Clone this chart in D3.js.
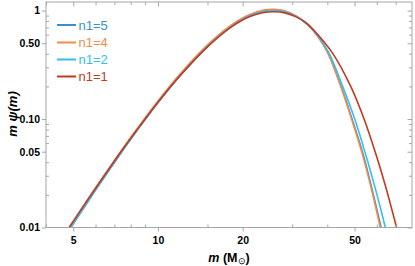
<!DOCTYPE html>
<html><head><meta charset="utf-8">
<script src="https://cdn.jsdelivr.net/npm/d3@7"></script>
<style>body{margin:0;background:#fff}svg{display:block}</style>
</head><body><svg id="c" width="415" height="266"></svg>
<script>
// ---- data ----
const seriesNames = ["n1=5", "n1=4", "n1=2", "n1=1"];
const seriesColors = ["#3a8fd2", "#f28a4a", "#33bff0", "#c43a1c"];

const mN5 = [4.6, 5, 6, 7, 8, 10, 12, 15, 18, 21, 24, 26, 28, 31, 34, 37, 40.2, 44.8, 49.1, 53.5, 57.4, 62.0, 64.5];
const yN5 = [0.0077, 0.0108, 0.0221, 0.0397, 0.065, 0.141, 0.252, 0.468, 0.70, 0.893, 0.997, 1.012, 0.99, 0.89, 0.745, 0.585, 0.41, 0.199, 0.098, 0.0483, 0.0238, 0.0102, 0.0065];

const mN4 = [4.6, 5, 6, 7, 8, 10, 12, 15, 18, 21, 24, 26, 28, 31, 34, 37, 40.2, 44.7, 48.9, 53.2, 57.1, 61.6, 64];
const yN4 = [0.0082, 0.0114, 0.0231, 0.0414, 0.0676, 0.147, 0.262, 0.484, 0.72, 0.911, 1.016, 1.029, 1.0, 0.894, 0.741, 0.575, 0.403, 0.199, 0.098, 0.0483, 0.0238, 0.0102, 0.0065];

const mN2 = [4.6, 5, 6, 7, 8, 10, 12, 15, 18, 21, 24, 26, 28, 31, 34, 37, 40.6, 45.4, 50.2, 54.6, 59.0, 64.2, 67];
const yN2 = [0.0078, 0.0109, 0.0223, 0.040, 0.0655, 0.142, 0.253, 0.468, 0.697, 0.885, 0.985, 1.0, 0.98, 0.885, 0.745, 0.59, 0.403, 0.199, 0.098, 0.0483, 0.0238, 0.0102, 0.0062];

const mN1 = [4.6, 5, 6, 7, 8, 10, 12, 15, 18, 21, 24, 26, 28, 31, 34, 37, 41.8, 48.5, 54.2, 59.4, 64.5, 70.4, 73];
const yN1 = [0.0082, 0.0114, 0.023, 0.041, 0.0665, 0.143, 0.252, 0.463, 0.69, 0.873, 0.965, 0.975, 0.958, 0.875, 0.755, 0.60, 0.403, 0.199, 0.098, 0.0483, 0.0238, 0.0102, 0.0072];

const xTickValues = [5, 10, 20, 50];
const xTickLabels = ["5", "10", "20", "50"];
const xMinorTicks = [4, 6, 7, 8, 9, 15, 30, 40, 60, 70];
const yTickValues = [1, 0.5, 0.1, 0.05, 0.01];
const yTickLabels = ["1", "0.50", "0.10", "0.05", "0.01"];
const yMinorTicks = [0.02, 0.03, 0.04, 0.06, 0.07, 0.08, 0.09, 0.2, 0.3, 0.4, 0.6, 0.7, 0.8, 0.9];

// ---- layout ----
const L = 46, R = 412, T = 2, B = 227.5;
const x = d3.scaleLog().domain([4, 80]).range([L, R]);
const y = d3.scaleLog().domain([0.01, 1.2]).range([B, T]);
const svg = d3.select("#c");
const font = "'Liberation Sans', Arial, sans-serif";
const frameColor = "#a6a6a6";

const series = [
  {name: seriesNames[0], color: seriesColors[0], m: mN5, v: yN5},
  {name: seriesNames[1], color: seriesColors[1], m: mN4, v: yN4},
  {name: seriesNames[2], color: seriesColors[2], m: mN2, v: yN2},
  {name: seriesNames[3], color: seriesColors[3], m: mN1, v: yN1}
];

svg.append("defs").append("clipPath").attr("id", "clip")
  .append("rect").attr("x", L).attr("y", T).attr("width", R - L).attr("height", B - T);

// curves
const line = d3.line().x(d => x(d[0])).y(d => y(d[1])).curve(d3.curveCatmullRom.alpha(0.5));
const g = svg.append("g").attr("clip-path", "url(#clip)");
series.forEach(s => {
  g.append("path").datum(s.m.map((m, i) => [m, s.v[i]]))
    .attr("d", line).attr("fill", "none").attr("stroke", s.color)
    .attr("stroke-width", 1.6);
});

// frame
svg.append("rect").attr("x", L).attr("y", T).attr("width", R - L).attr("height", B - T)
  .attr("fill", "none").attr("stroke", frameColor).attr("stroke-width", 1);

function styleAxis(sel) {
  sel.select(".domain").remove();
  sel.selectAll(".tick line").attr("stroke", frameColor);
  sel.selectAll("text").attr("fill", "#000").attr("font-family", font)
    .attr("font-weight", "bold").attr("font-size", 10.5);
}

// bottom axis: major outward with labels, minor inside
const bx = svg.append("g").attr("transform", `translate(0,${B})`)
  .call(d3.axisBottom(x).tickValues(xTickValues).tickFormat((d, i) => xTickLabels[i]).tickSize(4).tickPadding(5));
styleAxis(bx);
svg.append("g").attr("transform", `translate(0,${B})`)
  .call(d3.axisBottom(x).tickValues(xMinorTicks).tickFormat("").tickSize(-3)).call(styleAxis);

// top axis: inside ticks
svg.append("g").attr("transform", `translate(0,${T})`)
  .call(d3.axisTop(x).tickValues(xTickValues).tickFormat("").tickSize(-4.5)).call(styleAxis);
svg.append("g").attr("transform", `translate(0,${T})`)
  .call(d3.axisTop(x).tickValues(xMinorTicks).tickFormat("").tickSize(-3)).call(styleAxis);

// left axis
const ly = svg.append("g").attr("transform", `translate(${L},0)`)
  .call(d3.axisLeft(y).tickValues(yTickValues).tickFormat((d, i) => yTickLabels[i]).tickSize(4).tickPadding(2));
styleAxis(ly);
svg.append("g").attr("transform", `translate(${L},0)`)
  .call(d3.axisLeft(y).tickValues(yMinorTicks).tickFormat("").tickSize(-3)).call(styleAxis);

// right axis: inside ticks
svg.append("g").attr("transform", `translate(${R},0)`)
  .call(d3.axisRight(y).tickValues(yTickValues).tickFormat("").tickSize(-4.5)).call(styleAxis);
svg.append("g").attr("transform", `translate(${R},0)`)
  .call(d3.axisRight(y).tickValues(yMinorTicks).tickFormat("").tickSize(-3)).call(styleAxis);

// axis titles
const xt = svg.append("text").attr("x", 229).attr("y", 262).attr("text-anchor", "middle")
  .attr("font-family", font).attr("font-weight", "bold").attr("font-size", 12.5).attr("fill", "#000");
xt.append("tspan").attr("font-style", "italic").text("m");
xt.append("tspan").text(" (M");
xt.append("tspan").attr("font-size", 8.5).attr("font-weight", "normal").attr("dy", 2).text("\u2299");
xt.append("tspan").attr("dy", -2).text(")");

const yt = svg.append("text").attr("transform", "translate(17,114) rotate(-90)").attr("text-anchor", "middle")
  .attr("font-family", font).attr("font-weight", "bold").attr("font-style", "italic")
  .attr("font-size", 13).attr("fill", "#000");
yt.append("tspan").text("m \u03C8(m)");

// legend
const legRows = [25, 42.5, 59.5, 76.5];
series.forEach((s, i) => {
  svg.append("line").attr("x1", 57).attr("x2", 76).attr("y1", legRows[i]).attr("y2", legRows[i])
    .attr("stroke", s.color).attr("stroke-width", 2);
  svg.append("text").attr("x", 78.5).attr("y", legRows[i]).attr("dy", "0.36em")
    .attr("font-family", font).attr("font-size", 13).attr("fill", s.color).text(s.name);
});
</script>
</body></html>
